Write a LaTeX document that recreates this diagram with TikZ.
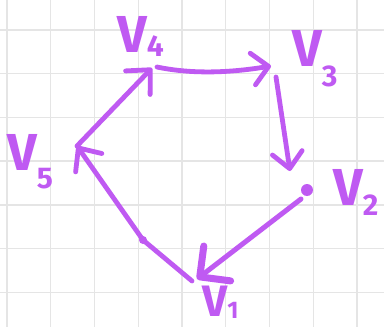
\documentclass[tikz,border=0pt]{standalone}
\usepackage{fontspec}
\setmainfont{Fira Sans}
\usetikzlibrary{arrows.meta}
\definecolor{penc}{RGB}{191,90,242}
\definecolor{gridc}{RGB}{229,229,229}
\begin{document}
\begin{tikzpicture}[x=1pt,y=-1pt,
  pen/.style={draw=penc, line width=4.8pt, line cap=round, line join=round},
  lab/.style={text=penc, font=\bfseries\fontsize{52}{52}\selectfont, inner sep=0pt, anchor=base west}]
\useasboundingbox (0,0) rectangle (384,327);
\fill[white] (0,0) rectangle (384,327);
% grid
\foreach \x in {7,50.75,94.5,138.25,182,225.75,269.5,313.25,357}
  \draw[gridc, line width=1.4pt] (\x,0) -- (\x,327);
\foreach \y in {30,73.7,117.4,161.1,204.8,248.5,292.2}
  \draw[gridc, line width=1.4pt] (0,\y) -- (384,\y);
% vertices
\coordinate (v4) at (152,68);
\coordinate (v3) at (271,66);
\coordinate (v2) at (307,190);
\coordinate (v1) at (197,279);
\coordinate (v5) at (77,146);
\coordinate (v4out) at (157,67);
\coordinate (v3out) at (276,77);
\coordinate (v2in) at (290,171);
\coordinate (v2out) at (301,199);
\coordinate (v1out) at (192,281);
\coordinate (bend) at (143,240);
% edges
\draw[pen, -{Straight Barb[round,length=18pt,width=34pt]}] (v5) -- (v4);
\draw[pen, -{Straight Barb[round,length=16pt,width=32pt]}] (v4out) .. controls (195,75) and (235,72) .. (v3);
\draw[pen, -{Straight Barb[round,length=16pt,width=30pt]}] (v3out) -- (v2in);
\fill[penc] (v2) circle (6pt);
\draw[pen, line width=5pt, -{Straight Barb[round,length=22pt,width=44pt,line width=7pt]}] (v2out) -- (v1);
\draw[pen, -{Straight Barb[round,length=18pt,width=32pt]}] (v1out) -- (bend) -- (v5);
\fill[penc] (bend) circle (4pt);
% labels
\node[lab] (l4) at (117,52) {V\raisebox{-4pt}{\fontsize{30}{30}\selectfont 4}};
\node[lab] (l3) at (292,66) {V\raisebox{-20pt}{\fontsize{30}{30}\selectfont 3}};
\node[lab] (l5) at (7,170) {V\raisebox{-18pt}{\fontsize{30}{30}\selectfont 5}};
\node[lab] (l2) at (333,205) {V\raisebox{-10pt}{\fontsize{30}{30}\selectfont 2}};
\node[lab, font=\bfseries\fontsize{44}{44}\selectfont] (l1) at (202,316) {V\raisebox{-2pt}{\fontsize{24}{24}\selectfont 1}};
\end{tikzpicture}
\end{document}
